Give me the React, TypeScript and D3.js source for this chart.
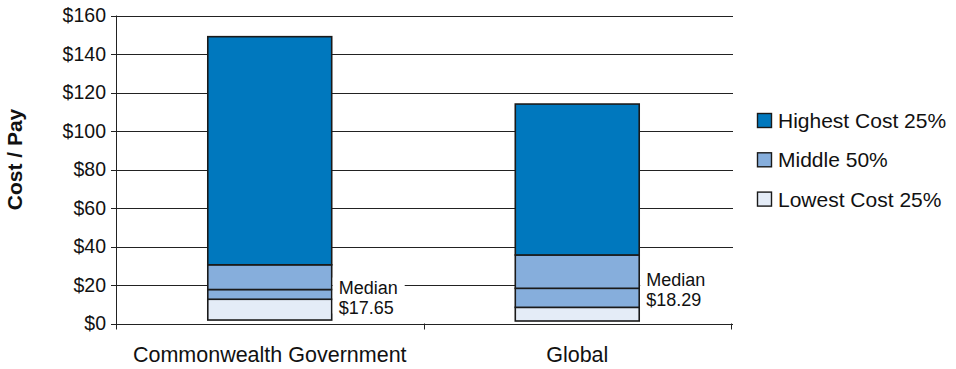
import React from "react";
import * as d3 from "d3";

const categories = ["Commonwealth Government", "Global"];
const minCost = [1.8, 1.3];
const lowestTop = [12.6, 8.4];
const medians = [17.65, 18.29];
const middleTop = [30.5, 35.6];
const highestTop = [149, 114];
const medianLabels = ["$17.65", "$18.29"];
const yTicks = [0, 20, 40, 60, 80, 100, 120, 140, 160];
const legendItems = ["Highest Cost 25%", "Middle 50%", "Lowest Cost 25%"];

const W = 956;
const H = 369;
const FONT = "'Liberation Sans', Arial, Helvetica, sans-serif";
const C_HIGH = "#0078BE";
const C_MID = "#86AEDC";
const C_LOW = "#E4ECF7";
const legendColors = [C_HIGH, C_MID, C_LOW];

export default function App() {
  const left = 116;
  const right = 731;
  const top = 15.5;
  const bottom = 323.5;
  const x = d3.scaleBand<string>().domain(categories).range([left, right]).padding(0);
  const y = d3.scaleLinear().domain([0, 160]).range([bottom, top]);
  const bw = x.bandwidth();
  const barW = bw * 0.403;
  const labelBgW = [72, 93];
  const labelDy = [4, -2];

  return (
    <svg
      width={W}
      height={H}
      style={{ position: "absolute", left: 0, top: 0, background: "#fff" }}
      fontFamily={FONT}
    >
      {/* gridlines + y ticks */}
      {yTicks.map((t) => (
        <g key={t}>
          <line x1={left - 5} x2={right + 2} y1={Math.round(y(t)) + 0.5} y2={Math.round(y(t)) + 0.5} stroke="#222" strokeWidth={1} />
          <text x={left - 10} y={y(t)} dy="0.35em" textAnchor="end" fontSize={19.5} fill="#111">
            {"$" + t}
          </text>
        </g>
      ))}
      {/* y axis */}
      <line x1={left + 0.5} x2={left + 0.5} y1={y(160)} y2={y(0) + 0.5} stroke="#222" strokeWidth={1} />
      {/* bars */}
      {categories.map((c, i) => {
        const cx = (x(c) as number) + bw / 2;
        const bx = cx - barW / 2;
        const segs = [
          [minCost[i], lowestTop[i], C_LOW],
          [lowestTop[i], medians[i], C_MID],
          [medians[i], middleTop[i], C_MID],
          [middleTop[i], highestTop[i], C_HIGH],
        ] as [number, number, string][];
        return (
          <g key={c}>
            {segs.map(([a, b, col], k) => (
              <rect key={k} x={bx} y={y(b)} width={barW} height={y(a) - y(b)} fill={col} stroke="#1a1a1a" strokeWidth={1.6} />
            ))}
          </g>
        );
      })}
      {/* median labels */}
      {categories.map((c, i) => {
        const cx = (x(c) as number) + bw / 2;
        const bxr = cx + barW / 2;
        const my = y(medians[i]) + labelDy[i];
        return (
          <g key={"m" + c}>
            <rect x={bxr + 1} y={my - 16} width={labelBgW[i]} height={36} fill="#fff" />
            <text x={bxr + 7} y={my} fontSize={18} fill="#111">Median</text>
            <text x={bxr + 7} y={my + 20} fontSize={18} fill="#111">{medianLabels[i]}</text>
          </g>
        );
      })}
      {/* x axis */}
      <line x1={left} x2={right + 1} y1={Math.round(y(0)) + 0.5} y2={Math.round(y(0)) + 0.5} stroke="#222" strokeWidth={1.2} />
      {[...categories.map((c) => x(c) as number), right].map((tx, i) => (
        <line key={i} x1={Math.round(tx) + 0.5} x2={Math.round(tx) + 0.5} y1={y(0)} y2={y(0) + 6} stroke="#222" strokeWidth={1} />
      ))}
      {categories.map((c) => (
        <text key={"l" + c} x={(x(c) as number) + bw / 2} y={362} textAnchor="middle" fontSize={21.5} fill="#111">
          {c}
        </text>
      ))}
      {/* y title */}
      <text
        transform={`translate(22,${(top + bottom) / 2 - 10}) rotate(-90)`}
        textAnchor="middle"
        fontSize={21}
        fontWeight="bold"
        fill="#111"
      >
        Cost / Pay
      </text>
      {/* legend */}
      {legendItems.map((t, i) => {
        const ly = 128 + i * 39.3;
        return (
          <g key={t}>
            <rect x={757.5} y={ly - 14.5} width={14} height={14} fill={legendColors[i]} stroke="#1a1a1a" strokeWidth={1.4} />
            <text x={778} y={ly} fontSize={21} fill="#111">{t}</text>
          </g>
        );
      })}
    </svg>
  );
}
